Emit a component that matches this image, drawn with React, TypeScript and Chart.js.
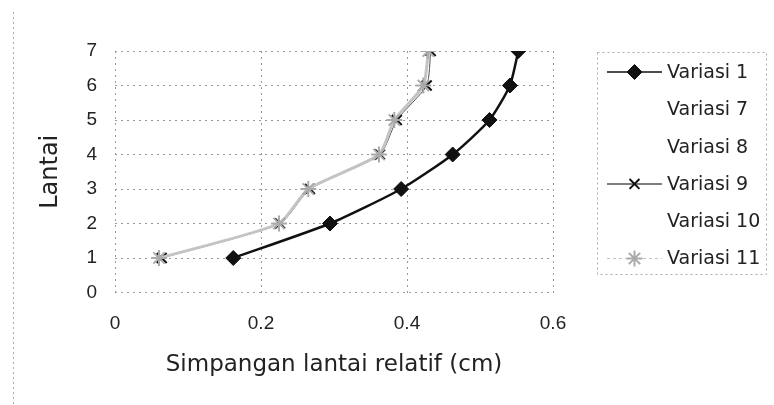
import React, { useEffect, useRef } from 'react';
import { Chart, registerables } from 'chart.js';
import { drawPoint } from 'chart.js/helpers';

Chart.register(...registerables);

// ---- data ----
const floors = [1, 2, 3, 4, 5, 6, 7];
const variasi1 = [0.162, 0.2945, 0.392, 0.4626, 0.513, 0.541, 0.5525];
const variasi7: number[] = [];
const variasi8: number[] = [];
const variasi9 = [0.064, 0.226, 0.267, 0.363, 0.386, 0.427, 0.4325];
const variasi10: number[] = [];
const variasi11 = [0.0603, 0.2247, 0.2648, 0.3616, 0.3826, 0.4224, 0.4292];
const seriesNames = ['Variasi 1', 'Variasi 7', 'Variasi 8', 'Variasi 9', 'Variasi 10', 'Variasi 11'];
const xTickValues = [0, 0.2, 0.4, 0.6];
const yTickValues = [0, 1, 2, 3, 4, 5, 6, 7];
const xTitle = 'Simpangan lantai relatif (cm)';
const yTitle = 'Lantai';

const toPoints = (xs: number[]) => xs.map((x, i) => ({ x, y: floors[i] }));

const legendPlugin = {
  id: 'excelLegend',
  afterDraw(chart: any) {
    const ctx = chart.ctx;
    ctx.save();
    // outer chart border (left, dotted)
    ctx.strokeStyle = '#aaa';
    ctx.lineWidth = 1;
    ctx.setLineDash([2, 3]);
    ctx.beginPath();
    ctx.moveTo(13.5, 12);
    ctx.lineTo(13.5, 405);
    ctx.stroke();
    // legend box
    ctx.strokeRect(597.5, 52.5, 169, 222);
    ctx.setLineDash([]);
    chart.data.datasets.forEach((ds: any, i: number) => {
      const y = 72 + i * 37.3;
      if (ds.legendVisible) {
        ctx.strokeStyle = ds.borderColor;
        ctx.lineWidth = ds.legendLineWidth;
        ctx.setLineDash(ds.legendDash || []);
        ctx.beginPath();
        ctx.moveTo(607, y);
        ctx.lineTo(662, y);
        ctx.stroke();
        ctx.setLineDash([]);
        ctx.fillStyle = ds.pointBackgroundColor;
        ctx.strokeStyle = ds.pointBorderColor;
        ctx.lineWidth = ds.pointBorderWidth;
        drawPoint(ctx, { pointStyle: ds.pointStyle, radius: ds.pointRadius, rotation: 0, borderWidth: ds.pointBorderWidth }, 634.5, y);
      }
      ctx.fillStyle = '#222';
      ctx.font = '19px "DejaVu Sans"';
      ctx.textAlign = 'left';
      ctx.textBaseline = 'middle';
      ctx.fillText(ds.label, 667, y + 1);
    });
    ctx.restore();
  },
};

export default function App() {
  const ref = useRef<HTMLCanvasElement>(null);
  useEffect(() => {
    const canvas = ref.current!;
    const chart = new Chart(canvas, {
      type: 'scatter',
      data: {
        datasets: [
          {
            label: seriesNames[0],
            data: toPoints(variasi1),
            showLine: true,
            tension: 0.2,
            borderColor: '#111',
            borderWidth: 2.5,
            pointStyle: 'rectRot',
            pointRadius: 7.5,
            pointBackgroundColor: '#111',
            pointBorderColor: '#111',
            pointBorderWidth: 1,
            legendVisible: true,
            legendLineWidth: 1.5,
            order: 0,
          } as any,
          { label: seriesNames[1], data: toPoints(variasi7), showLine: true, borderColor: 'rgba(0,0,0,0)', pointRadius: 0, legendVisible: false } as any,
          { label: seriesNames[2], data: toPoints(variasi8), showLine: true, borderColor: 'rgba(0,0,0,0)', pointRadius: 0, legendVisible: false } as any,
          {
            label: seriesNames[3],
            data: toPoints(variasi9),
            showLine: true,
            tension: 0.2,
            borderColor: '#555',
            borderWidth: 1,
            pointStyle: 'crossRot',
            pointRadius: 7,
            pointBackgroundColor: '#111',
            pointBorderColor: '#111',
            pointBorderWidth: 2,
            legendVisible: true,
            legendLineWidth: 1.5,
            order: 2,
          } as any,
          { label: seriesNames[4], data: toPoints(variasi10), showLine: true, borderColor: 'rgba(0,0,0,0)', pointRadius: 0, legendVisible: false } as any,
          {
            label: seriesNames[5],
            data: toPoints(variasi11),
            showLine: true,
            tension: 0.2,
            borderColor: '#c4c4c4',
            borderWidth: 3,
            pointStyle: 'star',
            pointRadius: 8,
            pointBackgroundColor: '#aaa',
            pointBorderColor: '#aaa',
            pointBorderWidth: 2,
            legendVisible: true,
            legendLineWidth: 1,
            legendDash: [3, 3],
            order: 1,
          } as any,
        ],
      },
      options: {
        responsive: false,
        animation: false,
        layout: { padding: { left: 0, top: 51, right: 221, bottom: 0 } },
        plugins: { legend: { display: false }, tooltip: { enabled: false } },
        scales: {
          x: {
            type: 'linear',
            min: 0,
            max: 0.6,
            afterBuildTicks: (scale: any) => {
              scale.ticks = xTickValues.map((v) => ({ value: v }));
            },
            afterFit: (scale: any) => {
              scale.height = 112.5;
            },
            ticks: {
              padding: 20,
              color: '#222',
              font: { family: 'Liberation Sans', size: 19 },
              callback: (v: any) => String(Number(v)),
            },
            grid: { color: '#999', lineWidth: 1, drawTicks: false },
            border: { display: false, dash: [2, 4] },
            title: {
              display: true,
              text: xTitle,
              color: '#222',
              font: { family: '"DejaVu Sans"', size: 23 },
              padding: { top: 0, bottom: 26 },
            },
          },
          y: {
            type: 'linear',
            min: 0,
            max: 7,
            afterBuildTicks: (scale: any) => {
              scale.ticks = yTickValues.map((v) => ({ value: v }));
            },
            afterFit: (scale: any) => {
              scale.width = 115;
            },
            ticks: {
              padding: 18,
              color: '#222',
              font: { family: 'Liberation Sans', size: 19 },
            },
            grid: { color: '#999', lineWidth: 1, drawTicks: false },
            border: { display: false, dash: [2, 4] },
            title: {
              display: true,
              text: yTitle,
              color: '#222',
              font: { family: '"DejaVu Sans"', size: 24 },
              padding: { top: 36, bottom: 0 },
            },
          },
        },
      },
      plugins: [legendPlugin],
    } as any);
    return () => chart.destroy();
  }, []);
  return (
    <div style={{ position: 'fixed', left: 0, top: 0, width: 774, height: 405, background: '#fff' }}>
      <canvas ref={ref} width={774} height={405} style={{ display: 'block' }} />
    </div>
  );
}
